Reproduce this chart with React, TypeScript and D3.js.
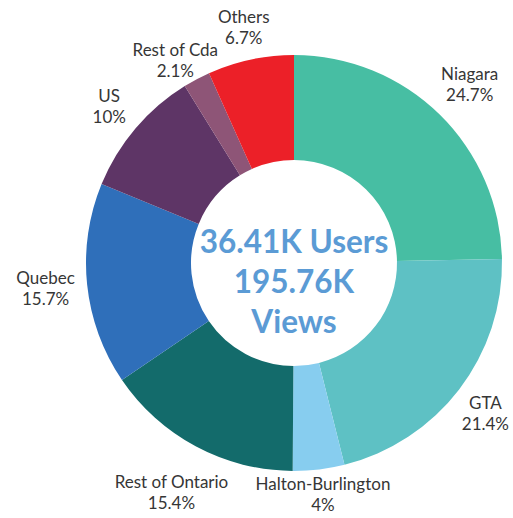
import React from "react";
import * as d3 from "d3";

const categories = ["Niagara", "GTA", "Halton-Burlington", "Rest of Ontario", "Quebec", "US", "Rest of Cda", "Others"];
const values = [24.7, 21.4, 4, 15.4, 15.7, 10, 2.1, 6.7];
const valueLabels = ["24.7%", "21.4%", "4%", "15.4%", "15.7%", "10%", "2.1%", "6.7%"];
const colors = ["#47BEA3", "#5EC1C4", "#87CDEF", "#136B6B", "#2F6FBA", "#5E3566", "#8E5577", "#EC2028"];
const centerLines = ["36.41K Users", "195.76K", "Views"];

const W = 513, H = 518;
const cx = 294, cy = 263, R = 208, r0 = 103;
const labelFontSize = 17;
const labelFont = `${labelFontSize}px Lato`;
const lineH = 21;
const capH = 12;

function measure(text: string, font: string): number {
  if (typeof document === "undefined") return text.length * 8;
  const c = document.createElement("canvas");
  const ctx = c.getContext("2d");
  if (!ctx) return text.length * 8;
  ctx.font = font;
  return ctx.measureText(text).width;
}

type Box = { x: number; y: number; w: number; h: number };

export default function App() {
  const data = categories.map((c, i) => ({ name: c, value: values[i], label: valueLabels[i], color: colors[i] }));
  const pie = d3.pie<any>().value((d: any) => d.value).sort(null);
  const arcs = pie(data);
  const arc = d3.arc<any>().innerRadius(r0).outerRadius(R);
  const gap = 11;
  const h = capH + lineH; // tight text box: cap-top of line 1 to baseline of line 2

  const labels = arcs.map((a) => {
    const th = (a.startAngle + a.endAngle) / 2;
    const s = Math.sin(th), c = Math.cos(th);
    const w = Math.max(measure(a.data.name, labelFont), measure(a.data.label, labelFont));
    const support = (w / 2) * Math.abs(s) + (h / 2) * Math.abs(c);
    const d = R + gap + support;
    return { a, x: d * s, y: -d * c, w, c };
  });
  // collision avoidance: larger slices placed first, smaller ones slide away
  const order = labels.map((_, i) => i).sort((i, j) => labels[j].a.data.value - labels[i].a.data.value);
  const placed: Box[] = [];
  const pad = 3;
  order.forEach((i) => {
    const L = labels[i];
    const dir = L.c > 0 ? 1 : -1;
    for (let k = 0; k < 150; k++) {
      const bx = { x: L.x - L.w / 2 - pad, y: L.y - h / 2, w: L.w + 2 * pad, h };
      const hit = placed.some((p) => bx.x < p.x + p.w && bx.x + bx.w > p.x && bx.y < p.y + p.h && bx.y + bx.h > p.y);
      if (!hit) break;
      L.y += dir;
    }
    const maxY = H - cy - h / 2 - 7;
    if (L.y > maxY) L.y = maxY;
    const maxX = W - cx - L.w / 2 - 4;
    if (L.x > maxX) L.x = maxX;
    const minX = -cx + L.w / 2 + 4;
    if (L.x < minX) L.x = minX;
    placed.push({ x: L.x - L.w / 2 - pad, y: L.y - h / 2, w: L.w + 2 * pad, h });
  });

  return (
    <svg width={W} height={H} style={{ position: "absolute", left: 0, top: 0 }}>
      <rect width={W} height={H} fill="#fff" />
      <g transform={`translate(${cx},${cy})`}>
        {arcs.map((a, i) => (
          <path key={i} d={arc(a) as string} fill={a.data.color} />
        ))}
        {labels.map((L, i) => {
          const b1 = L.y - h / 2 + capH;
          return (
            <text key={"l" + i} textAnchor="middle" fontFamily="Lato" fontSize={labelFontSize} fill="#363636">
              <tspan x={L.x} y={b1}>{L.a.data.name}</tspan>
              <tspan x={L.x} y={b1 + lineH}>{L.a.data.label}</tspan>
            </text>
          );
        })}
        <text textAnchor="middle" fontFamily="Lato" fontWeight="bold" fontSize={31.5} fill="#5B9BD5">
          {centerLines.map((t, i) => (
            <tspan key={i} x={0} y={-10 + i * 40}>{t}</tspan>
          ))}
        </text>
      </g>
    </svg>
  );
}
